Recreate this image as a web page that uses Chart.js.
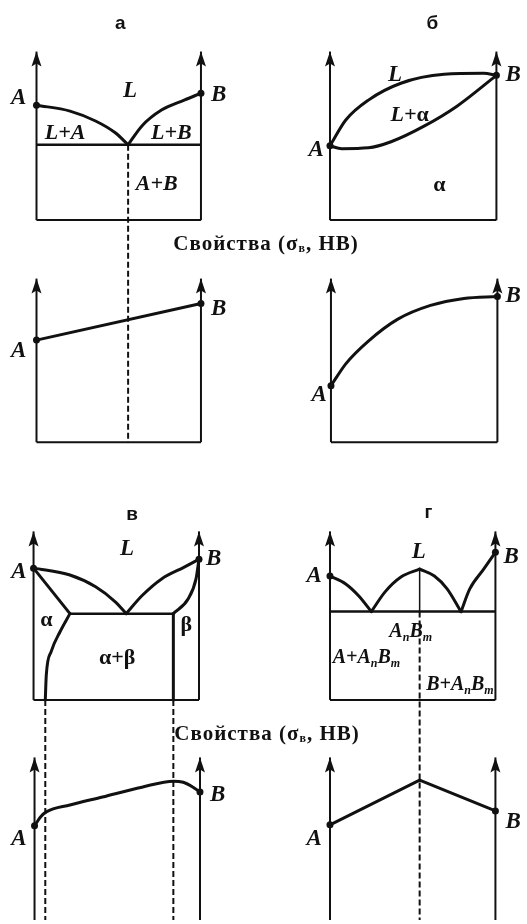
<!DOCTYPE html>
<html>
<head>
<meta charset="utf-8">
<script src="https://cdn.jsdelivr.net/npm/chart.js@4"></script>
<style>
   html, body { margin: 0; padding: 0; background: #fff; overflow: hidden; }
   #wrap { position: relative; width: 527px; height: 924px; }
   #fig { position: absolute; left: 0; top: 0; }
   .cap { position: absolute; transform: translate(-50%, -50%); white-space: nowrap; letter-spacing: 1px;
          font: bold 21px "Liberation Serif", serif; color: #111; }
   .cap sub { font-size: 12px; vertical-align: -2px; }
</style>
</head>
<body>
<div id="wrap">
   <canvas id="fig" width="527" height="924"></canvas>
   <div class="cap" style="left:266px; top:243px">Свойства (σ<sub>в</sub>, HB)</div>
   <div class="cap" style="left:267px; top:733px">Свойства (σ<sub>в</sub>, HB)</div>
</div>

<script>
// Data: composition x = 0..100 (A -> B), temperature / property y = 0..100
// ----------------------------------------------
// а — eutectic, insoluble components
const aLiqA   = [[0, 68.2], [20.4, 64.7], [35.9, 58.8], [47.9, 51.8], [55.7, 44.7]];
const aLiqB   = [[55.7, 44.7], [64.1, 55.9], [76.0, 65.3], [89.8, 71.2], [100, 75.3]];
const aEut    = [[0, 44.7], [100, 44.7]];
const aProp   = [[0, 62.4], [100, 84.8]];

// б — unlimited solid solubility
const bLiq    = [[0, 44.1], [9.5, 59.4], [23.1, 71.2], [42.6, 81.2], [68.6, 86.5], [92.3, 87.1], [100, 85.9]];
const bSol    = [[0, 44.1], [7.1, 42.4], [23.1, 42.9], [36.7, 46.5], [56.8, 55.9], [76.3, 67.6], [100, 85.9]];
const bProp   = [[0, 34.5], [8.9, 47.9], [22.5, 61.8], [40.2, 75.2], [59.8, 83.6], [79.9, 87.9], [100, 89.1]];

// в — limited solubility, eutectic
const vLiqA   = [[0, 78.2], [22.0, 74.1], [37.5, 67.1], [49.4, 58.2], [56.0, 51.2]];
const vLiqB   = [[56.0, 51.2], [65.5, 61.8], [77.4, 71.8], [91.1, 78.8], [100, 83.5]];
const vSolA   = [[0, 78.2], [22.0, 51.2]];
const vSolvA  = [[7.1, 0], [7.7, 14.7], [10.7, 28.8], [16.1, 40.6], [22.0, 51.2]];
const vSolB   = [[84.5, 51.2], [93.5, 60.0], [98.2, 71.8], [100, 83.5]];
const vSolvB  = [[84.5, 51.2], [84.5, 0]];
const vEut    = [[22.0, 51.2], [84.5, 51.2]];
const vProp   = [[0, 58.2], [3.6, 63.6], [7.1, 66.7], [21.4, 70.9], [41.1, 75.8], [64.9, 81.8], [84.0, 85.5], [89.9, 84.8], [95.8, 81.8], [100, 78.8]];

// г — chemical compound AnBm
const gLiq1   = [[0, 73.5], [9.5, 68.8], [17.3, 61.8], [25.0, 52.4]];
const gLiq2   = [[25.0, 52.4], [33.3, 64.1], [42.9, 72.9], [54.2, 77.6]];
const gLiq3   = [[54.2, 77.6], [63.1, 73.5], [70.8, 65.9], [79.2, 52.4]];
const gLiq4   = [[79.2, 52.4], [84.5, 65.9], [92.9, 77.6], [100, 87.6]];
const gEut    = [[0, 52.4], [100, 52.4]];
const gComp   = [[54.2, 77.6], [54.2, 52.4]];
const gProp   = [[0, 58.8], [54.2, 86.1], [100, 67.3]];

// Labels: [text, x, y, font]
const labelsA  = [['а', 50.9, 116.5, 'let'], ['L', 56.9, 76.5, 'it'], ['L+A', 17.4, 51.8, 'it2'], ['L+B', 82.0, 51.8, 'it2'],
                  ['A+B', 73.1, 21.2, 'it2'], ['A', -10.8, 72.4, 'it'], ['B', 110.8, 74.1, 'it']];
const labelsB  = [['б', 61.5, 116.5, 'let'], ['L', 39.1, 85.9, 'it'], [[['L+', 'it2'], ['α', 'gr']], 47.9, 62.4],
                  ['α', 65.7, 20.6, 'gr'], ['A', -8.3, 41.8, 'it'], ['B', 110.0, 85.9, 'it']];
const labelsAp = [['A', -10.8, 55.8, 'it'], ['B', 110.8, 81.2, 'it']];
const labelsBp = [['A', -7.1, 28.5, 'it'], ['B', 109.5, 89.1, 'it']];
const labelsV  = [['в', 59.5, 110.0, 'let'], ['L', 56.5, 89.4, 'it'], ['A', -8.9, 75.9, 'it'], ['B', 108.9, 83.5, 'it'],
                  ['α', 7.7, 47.1, 'gr'], ['β', 92.3, 44.1, 'gr'], ['α+β', 50.6, 24.7, 'gr']];
const labelsG  = [['г', 59.5, 111.2, 'let'], ['L', 53.6, 87.6, 'it'], ['A', -9.5, 73.5, 'it'], ['B', 109.5, 84.7, 'it'],
                  [[['A', 'cp'], ['n', 'sub'], ['B', 'cp'], ['m', 'sub']], 48.8, 40.6],
                  [[['A+A', 'cp'], ['n', 'sub'], ['B', 'cp'], ['m', 'sub']], 22.0, 24.7],
                  [[['B+A', 'cp'], ['n', 'sub'], ['B', 'cp'], ['m', 'sub']], 78.5, 8.8]];
const labelsVp = [['A', -9.5, 50.3, 'it'], ['B', 110.7, 77.0, 'it']];
const labelsGp = [['A', -9.5, 50.3, 'it'], ['B', 110.7, 60.6, 'it']];


// Layout: pixel box of every small diagram (axis feet and arrow tips)
// ----------------------------------------------
const W = 527, H = 924;
const INK = '#111';
const panels = {
   a:  { left: 33,  right: 200, top: 48,  bottom: 218, labels: labelsA },
   b:  { left: 331, right: 500, top: 48,  bottom: 218, labels: labelsB },
   ap: { left: 33,  right: 200, top: 277, bottom: 442, labels: labelsAp },
   bp: { left: 332, right: 501, top: 277, bottom: 442, labels: labelsBp },
   v:  { left: 30,  right: 198, top: 532, bottom: 702, labels: labelsV },
   g:  { left: 331, right: 499, top: 532, bottom: 702, labels: labelsG },
   vp: { left: 31,  right: 199, top: 760, bottom: 925, labels: labelsVp },
   gp: { left: 331, right: 499, top: 760, bottom: 925, labels: labelsGp }
};

const fonts = {
   it:  'italic bold 23px "Liberation Serif", serif',
   it2: 'italic bold 22px "Liberation Serif", serif',
   cp:  'italic bold 20px "Liberation Serif", serif',
   gr:  'bold 22px "Liberation Serif", serif',
   sub: 'italic bold 12px "Liberation Serif", serif',
   let: 'bold 19px "Liberation Sans", sans-serif'
};

// one hidden x/y scale pair per diagram, ranged so 0..100 lands on its box
const scales = {};
for (const [k, p] of Object.entries(panels)) {
   const sx = (p.right - p.left) / 100, sy = (p.bottom - p.top) / 100;
   scales['x' + k] = { type: 'linear', axis: 'x', display: false, bounds: 'data', min: -p.left / sx, max: (W - p.left) / sx };
   scales['y' + k] = { type: 'linear', axis: 'y', display: false, bounds: 'data', min: -(H - p.bottom) / sy, max: p.bottom / sy };
}


// Datasets
// ----------------------------------------------
const datasets = [];
const add = (p, pts, o = {}) => datasets.push({
   xAxisID: 'x' + p, yAxisID: 'y' + p,
   data: pts.map(([x, y]) => ({ x, y })),
   showLine: true, borderColor: INK, backgroundColor: INK,
   borderWidth: 3, pointRadius: 0, tension: 0, borderJoinStyle: 'round', ...o
});
const curve = (p, pts) => add(p, pts, { cubicInterpolationMode: 'monotone', borderCapStyle: 'round' });
const thin  = (p, pts, w = 2) => add(p, pts, { borderWidth: w });
const dash  = (p, pts) => add(p, pts, { borderWidth: 2, borderDash: [6, 3] });
const dots  = (p, pts) => add(p, pts, { showLine: false, pointRadius: 3.5, pointBorderWidth: 0, pointBackgroundColor: INK });
const frame = (p) => {
   thin(p, [[0, 0], [0, 100]]);
   thin(p, [[100, 0], [100, 100]]);
   thin(p, [[0, 0], [100, 0]]);
};

// а
frame('a');
thin('a', aEut, 2.5);
curve('a', aLiqA); curve('a', aLiqB);
dots('a', [aLiqA[0], aLiqB[aLiqB.length - 1]]);
dash('a', [[55.7, 44.7], [55.7, -131.8]]);
frame('ap');
add('ap', aProp);
dots('ap', aProp);

// б
frame('b');
curve('b', bLiq); curve('b', bSol);
dots('b', [bLiq[0], bLiq[bLiq.length - 1]]);
frame('bp');
curve('bp', bProp);
dots('bp', [bProp[0], bProp[bProp.length - 1]]);

// в
frame('v');
thin('v', vEut, 2.5);
curve('v', vLiqA); curve('v', vLiqB);
add('v', vSolA); curve('v', vSolvA);
curve('v', vSolB); add('v', vSolvB);
dots('v', [vLiqA[0], vLiqB[vLiqB.length - 1]]);
dash('v', [[7.1, 0], [7.1, -140]]);
dash('v', [[84.5, 0], [84.5, -140]]);
frame('vp');
curve('vp', vProp);
dots('vp', [vProp[0], vProp[vProp.length - 1]]);

// г
frame('g');
thin('g', gEut, 2.5);
curve('g', gLiq1); curve('g', gLiq2); curve('g', gLiq3); curve('g', gLiq4);
thin('g', gComp, 1.5);
dots('g', [gLiq1[0], gLiq4[gLiq4.length - 1]]);
dash('g', [[54.2, 52.4], [54.2, -140]]);
frame('gp');
add('gp', gProp);
dots('gp', [gProp[0], gProp[gProp.length - 1]]);


// Arrow heads and text labels drawn on the panel scales
// ----------------------------------------------
const annotations = {
   id: 'annotations',
   afterDatasetsDraw(chart) {
      const ctx = chart.ctx;
      ctx.save();
      ctx.fillStyle = INK;
      for (const k of Object.keys(panels)) {
         const xs = chart.scales['x' + k], ys = chart.scales['y' + k];

         // arrows on top of both vertical axes
         const ty = ys.getPixelForValue(100);
         [0, 100].forEach(v => {
            const px = xs.getPixelForValue(v);
            ctx.beginPath();
            ctx.moveTo(px, ty);
            ctx.lineTo(px + 5, ty + 15);
            ctx.lineTo(px, ty + 12);
            ctx.lineTo(px - 5, ty + 15);
            ctx.closePath();
            ctx.fill();
         });

         // labels
         ctx.textBaseline = 'middle';
         ctx.textAlign = 'left';
         panels[k].labels.forEach(([t, x, y, f]) => {
            const parts = typeof t === 'string' ? [[t, f]] : t;
            let w = 0;
            parts.forEach(([s, pf]) => { ctx.font = fonts[pf]; w += ctx.measureText(s).width; });
            let cx = xs.getPixelForValue(x) - w / 2;
            const cy = ys.getPixelForValue(y);
            parts.forEach(([s, pf]) => {
               ctx.font = fonts[pf];
               ctx.fillText(s, cx, pf === 'sub' ? cy + 6 : cy);
               cx += ctx.measureText(s).width;
            });
         });
      }
      ctx.restore();
   }
};

new Chart(document.getElementById('fig'), {
   type: 'scatter',
   data: { datasets },
   options: {
      responsive: false,
      animation: false,
      events: [],
      layout: { padding: 0 },
      scales,
      plugins: {
         legend: { display: false },
         tooltip: { enabled: false }
      }
   },
   plugins: [annotations]
});
</script>
</body>
</html>
